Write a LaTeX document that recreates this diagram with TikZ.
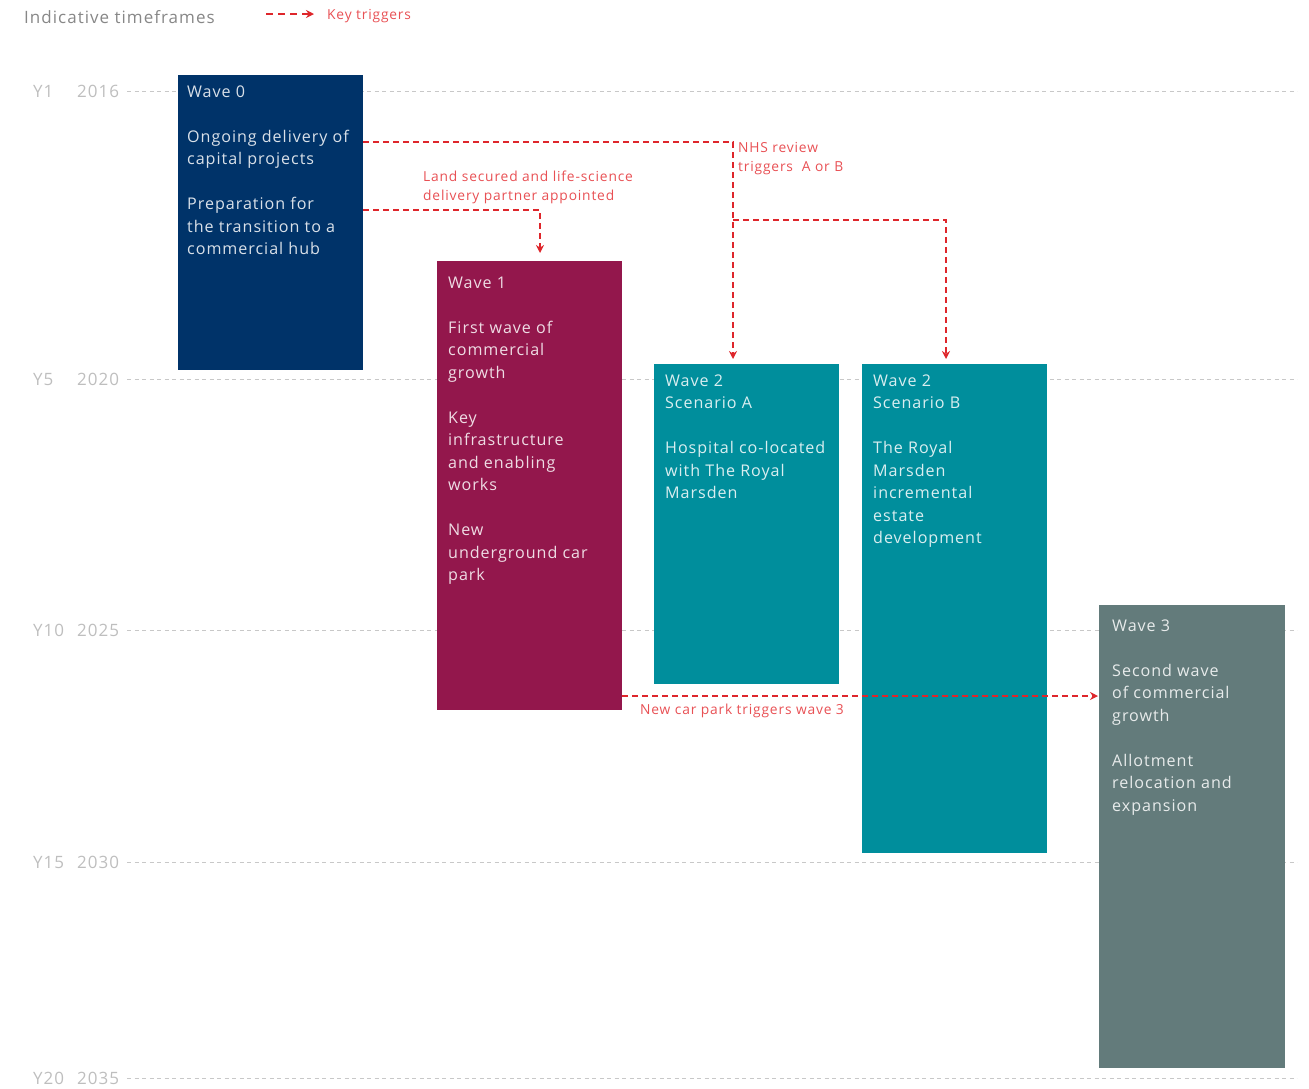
\documentclass[tikz,border=0pt]{standalone}
\usepackage{fontspec}
\setmainfont{Open Sans}[LetterSpace=6]
\usetikzlibrary{arrows.meta}
\definecolor{navy}{RGB}{0,51,105}
\definecolor{plum}{RGB}{147,23,76}
\definecolor{teal2}{RGB}{0,142,156}
\definecolor{slate}{RGB}{99,123,123}
\definecolor{gridgrey}{RGB}{200,200,200}
\definecolor{labgrey}{RGB}{190,190,190}
\definecolor{titlegrey}{RGB}{135,135,135}
\definecolor{trigred}{RGB}{222,38,43}
\definecolor{lblred}{RGB}{232,80,84}
\begin{document}
\begin{tikzpicture}[x=1pt,y=-1pt,
  gridline/.style={draw=gridgrey, line width=1pt, dash pattern=on 4pt off 3.5pt},
  box/.style={anchor=north west, inner sep=0pt, outer sep=0pt, minimum width=185pt},
  boxtxt/.style={anchor=north west, align=left, inner sep=0pt, text=white, text opacity=0.85, font=\fontsize{16.1}{22.5}\selectfont},
  trig/.style={draw=trigred, line width=1.2pt, dash pattern=on 6pt off 4pt, -{Stealth[length=8pt,width=8pt]}},
  triglbl/.style={text=lblred, font=\fontsize{13.8}{19}\selectfont, align=left, inner sep=0pt, anchor=north west},
  ylab/.style={text=labgrey, font=\fontsize{17}{17}\selectfont, anchor=base west, inner sep=0pt}]
\useasboundingbox (0,0) rectangle (1309,1088);

% legend
\node[anchor=base west, inner sep=0pt, text=titlegrey, font=\fontsize{17}{17}\selectfont] (title) at (24,23) {Indicative timeframes};
\coordinate (lg1) at (266,14);
\coordinate (lg2) at (314,14);
\draw[trig, dash pattern=on 7pt off 5pt] (lg1) -- (lg2);
\node[anchor=base west, inner sep=0pt, text=lblred, font=\fontsize{13.8}{13.8}\selectfont] (keytrig) at (327,19) {Key triggers};

% time grid
\foreach \yy/\yl/\yr/\nm in {91/Y1/2016/a, 379/Y5/2020/b, 630/Y10/2025/c, 862/Y15/2030/d, 1078/Y20/2035/e}{
  \node[ylab] (yl\nm) at (33,\yy+6) {\yl};
  \node[ylab] (yr\nm) at (77,\yy+6) {\yr};
  \coordinate (gs\nm) at (127,\yy);
  \coordinate (ge\nm) at (1297,\yy);
  \draw[gridline] (gs\nm) -- (ge\nm);
}

% boxes
\node[box, fill=navy, minimum height=295pt] (w0) at (178,75) {};
\node[box, fill=plum, minimum height=449pt] (w1) at (437,261) {};
\node[box, fill=teal2, minimum height=320pt] (w2a) at (654,364) {};
\node[box, fill=teal2, minimum height=489pt] (w2b) at (862,364) {};
\node[box, fill=slate, minimum height=463pt, minimum width=186pt] (w3) at (1099,605) {};

% box texts
\node[boxtxt] (t0) at (187,85.5) {Wave 0\\[22.5pt]Ongoing delivery of\\capital projects\\[22.5pt]Preparation for\\the transition to a\\commercial hub};
\node[boxtxt] (t1) at (448,276.5) {Wave 1\\[22.5pt]First wave of\\commercial\\growth\\[22.5pt]Key\\infrastructure\\and enabling\\works\\[22.5pt]New\\underground car\\park};
\node[boxtxt] (t2a) at (665,374.5) {Wave 2\\Scenario A\\[22.5pt]Hospital co-located\\with The Royal\\Marsden};
\node[boxtxt] (t2b) at (873,374.5) {Wave 2\\Scenario B\\[22.5pt]The Royal\\Marsden\\incremental\\estate\\development};
\node[boxtxt] (t3) at (1112,619.5) {Wave 3\\[22.5pt]Second wave\\of commercial\\growth\\[22.5pt]Allotment\\relocation and\\expansion};

% trigger labels
\node[triglbl] (lbl1) at (423,171) {Land secured and life-science\\delivery partner appointed};
\node[triglbl] (lbl2) at (738,142) {NHS review\\triggers\ \ A or B};
\node[anchor=base west, inner sep=0pt, text=lblred, font=\fontsize{13.8}{13.8}\selectfont] (lbl3) at (640,714) {New car park triggers wave 3};

% trigger connectors
\draw[trig, shorten >=5pt] ([yshift=-67pt]w0.north east) -| ([xshift=-13.5pt]w2a.north);
\coordinate (br) at (733,220);
\draw[trig, shorten >=5pt] (br) -| ([xshift=-8.5pt]w2b.north);
\draw[trig, shorten >=8pt] ([yshift=-135pt]w0.north east) -| ([xshift=10.5pt]w1.north);
\coordinate (c4) at ([yshift=14pt]w1.south east);
\draw[trig, shorten >=1pt] (c4) -- (c4 -| w3.west);
\end{tikzpicture}
\end{document}
